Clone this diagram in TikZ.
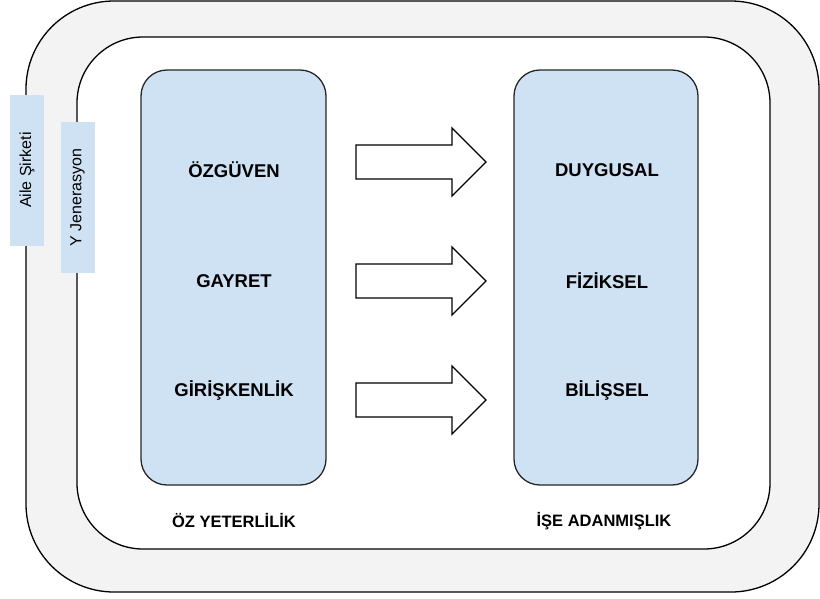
\documentclass[tikz,border=0pt]{standalone}
\usepackage{fontspec}
\setmainfont{Liberation Sans}
\definecolor{boxblue}{HTML}{CFE2F3}
\definecolor{ringgray}{HTML}{F3F3F3}
\begin{document}
\begin{tikzpicture}[x=1pt,y=-1pt,
  ring/.style={draw=black,line width=1.3pt},
  bluebox/.style={draw=black!85,line width=1.3pt,fill=boxblue,rounded corners=26pt},
  tab/.style={fill=boxblue,rotate=90,minimum width=151pt,minimum height=34pt,inner sep=0pt,font=\fontsize{16}{18}\selectfont},
  item/.style={font=\bfseries\fontsize{18.5}{21}\selectfont},
  caption/.style={font=\bfseries\fontsize{16.5}{19}\selectfont},
  bigarrow/.style={draw=black,line width=1.3pt,fill=white,line join=miter}]
\useasboundingbox (0,0) rectangle (820,598);
% outer ring
\draw[ring,fill=ringgray,rounded corners=88pt] (26,1) rectangle (819,592);
\draw[ring,fill=white,rounded corners=66pt] (77,37) rectangle (770,549);
% tabs
\node[tab] (aile) at (27,170) {Aile Şirketi};
\node[tab] (yjen) at (77.5,197.5) {Y Jenerasyon};
% blue boxes
\draw[bluebox] (141,70) rectangle (326,485);
\draw[bluebox] (514,70) rectangle (698,485);
% items
\node[item] (ozg) at (234,170) {ÖZGÜVEN};
\node[item] (gay) at (234,281) {GAYRET};
\node[item] (gir) at (234,390) {GİRİŞKENLİK};
\node[item] (duy) at (607,170) {DUYGUSAL};
\node[item] (fiz) at (607,281) {FİZİKSEL};
\node[item] (bil) at (607,390) {BİLİŞSEL};
% captions
\node[caption] (oz) at (234,521) {ÖZ YETERLİLİK};
\node[caption] (ise) at (604,521) {İŞE ADANMIŞLIK};
% arrows
\foreach \yy in {162,281,400}{
  \draw[bigarrow] (356,\yy-17) -- (452,\yy-17) -- (452,\yy-34) -- (486,\yy)
     -- (452,\yy+34) -- (452,\yy+17) -- (356,\yy+17) -- cycle;
}
\end{tikzpicture}
\end{document}
